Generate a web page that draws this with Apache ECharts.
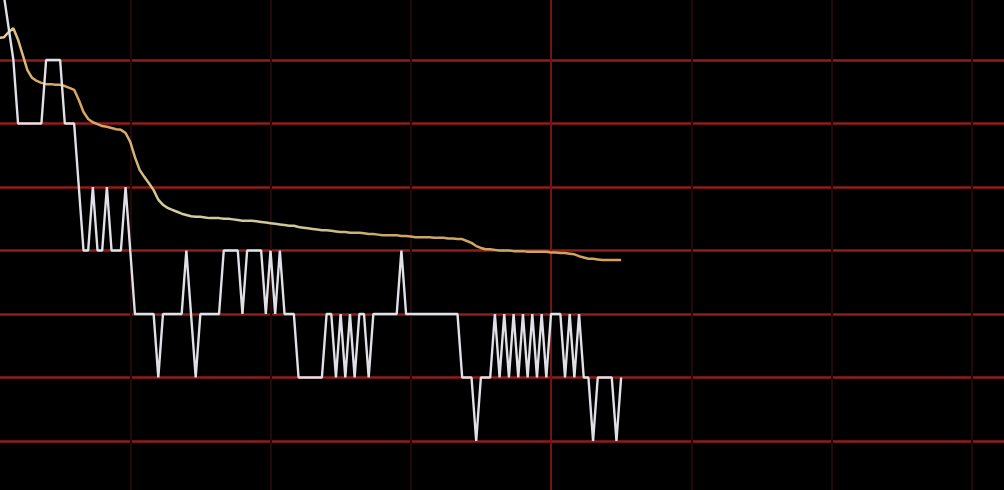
<!DOCTYPE html>
<html>
<head>
<meta charset="utf-8">
<script src="https://cdn.jsdelivr.net/npm/echarts@6/dist/echarts.min.js"></script>
<style>
html,body{margin:0;padding:0;background:#000;}
#chart{width:1004px;height:490px;}
</style>
</head>
<body>
<div id="chart"></div>
<script>
// minute index (intraday, 240 minutes per session)
var sessionMinutes = 240;
var minuteTicks = 30;
// price, in price-tick levels (one gridline per tick)
var price = [
  7.6, 7.5, 7.3, 7.0, 6.5, 6, 5, 5, 5, 5,
  5, 5, 6, 6, 6, 6, 5, 5, 5, 4,
  3, 3, 4, 3, 3, 4, 3, 3, 3, 4,
  3, 2, 2, 2, 2, 2, 1, 2, 2, 2,
  2, 2, 3, 2, 1, 2, 2, 2, 2, 2,
  3, 3, 3, 3, 2, 3, 3, 3, 3, 2,
  3, 2, 3, 2, 2, 2, 1, 1, 1, 1,
  1, 1, 2, 2, 1, 2, 1, 2, 1, 2,
  2, 1, 2, 2, 2, 2, 2, 2, 3, 2,
  2, 2, 2, 2, 2, 2, 2, 2, 2, 2,
  2, 1, 1, 1, 0, 1, 1, 1, 2, 1,
  2, 1, 2, 1, 2, 1, 2, 1, 2, 1,
  2, 2, 2, 1, 2, 1, 2, 1, 1, 0,
  1, 1, 1, 1, 0, 1
];
// average price line
var avgPrice = [
  6.28, 6.31, 6.35, 6.36, 6.44, 6.50, 6.32, 6.08, 5.84, 5.72,
  5.67, 5.64, 5.62, 5.62, 5.61, 5.61, 5.59, 5.56, 5.53, 5.37,
  5.18, 5.07, 5.02, 4.99, 4.96, 4.95, 4.93, 4.91, 4.90, 4.85,
  4.71, 4.47, 4.27, 4.16, 4.06, 3.95, 3.80, 3.72, 3.67, 3.64,
  3.61, 3.58, 3.56, 3.54, 3.53, 3.53, 3.52, 3.51, 3.51, 3.51,
  3.50, 3.50, 3.49, 3.48, 3.47, 3.47, 3.47, 3.46, 3.45, 3.44,
  3.43, 3.42, 3.41, 3.40, 3.39, 3.39, 3.37, 3.36, 3.35, 3.34,
  3.33, 3.32, 3.32, 3.31, 3.30, 3.29, 3.29, 3.28, 3.28, 3.28,
  3.27, 3.26, 3.26, 3.25, 3.24, 3.24, 3.24, 3.24, 3.23, 3.23,
  3.22, 3.21, 3.21, 3.21, 3.21, 3.20, 3.20, 3.20, 3.19, 3.19,
  3.18, 3.18, 3.15, 3.12, 3.07, 3.04, 3.02, 3.02, 3.01, 3.00,
  3.00, 3.00, 2.99, 2.99, 2.99, 2.98, 2.98, 2.98, 2.98, 2.98,
  2.97, 2.97, 2.96, 2.96, 2.95, 2.94, 2.91, 2.89, 2.87, 2.87,
  2.86, 2.85, 2.85, 2.85, 2.85, 2.85
];
var priceMin = -1, priceMax = 7;

var chart = echarts.init(document.getElementById('chart'), null, {renderer: 'canvas'});
var pricePts = price.map(function (v, i) { return [i, v]; });
var avgPts = avgPrice.map(function (v, i) { return [i, v]; });

var vColors = [];
for (var k = 0; k <= sessionMinutes / minuteTicks; k++) {
  vColors.push(k === 4 ? '#731515' : '#260707');
}

var avgGradient = new echarts.graphic.LinearGradient(0, 0, 1, 0, [
  {offset: 0, color: '#e4dab2'},
  {offset: 0.08, color: '#d9aa62'},
  {offset: 0.2, color: '#d6a45e'},
  {offset: 0.28, color: '#d3cf9e'},
  {offset: 0.5, color: '#cfc794'},
  {offset: 0.62, color: '#caa868'},
  {offset: 1, color: '#d3a257'}
]);

chart.setOption({
  backgroundColor: '#000000',
  animation: false,
  grid: {left: -10, right: -108, top: -3.5, bottom: -14.5, containLabel: false, outerBoundsMode: 'none'},
  xAxis: {
    type: 'value', min: 0, max: sessionMinutes, interval: minuteTicks,
    axisLine: {show: false}, axisTick: {show: false}, axisLabel: {show: false},
    splitLine: {show: true, lineStyle: {color: vColors, width: 2}}
  },
  yAxis: {
    type: 'value', min: priceMin, max: priceMax, interval: 1,
    axisLine: {show: false}, axisTick: {show: false}, axisLabel: {show: false},
    splitLine: {show: true, lineStyle: {color: '#921c1c', width: 2.5}}
  },
  series: [
    {
      type: 'line', data: avgPts, showSymbol: false, smooth: false,
      lineStyle: {color: avgGradient, width: 2.5}, z: 3
    },
    {
      type: 'line', data: pricePts, showSymbol: false, smooth: false,
      lineStyle: {color: '#e0e0e6', width: 2.4}, z: 4
    }
  ]
});
</script>
</body>
</html>
